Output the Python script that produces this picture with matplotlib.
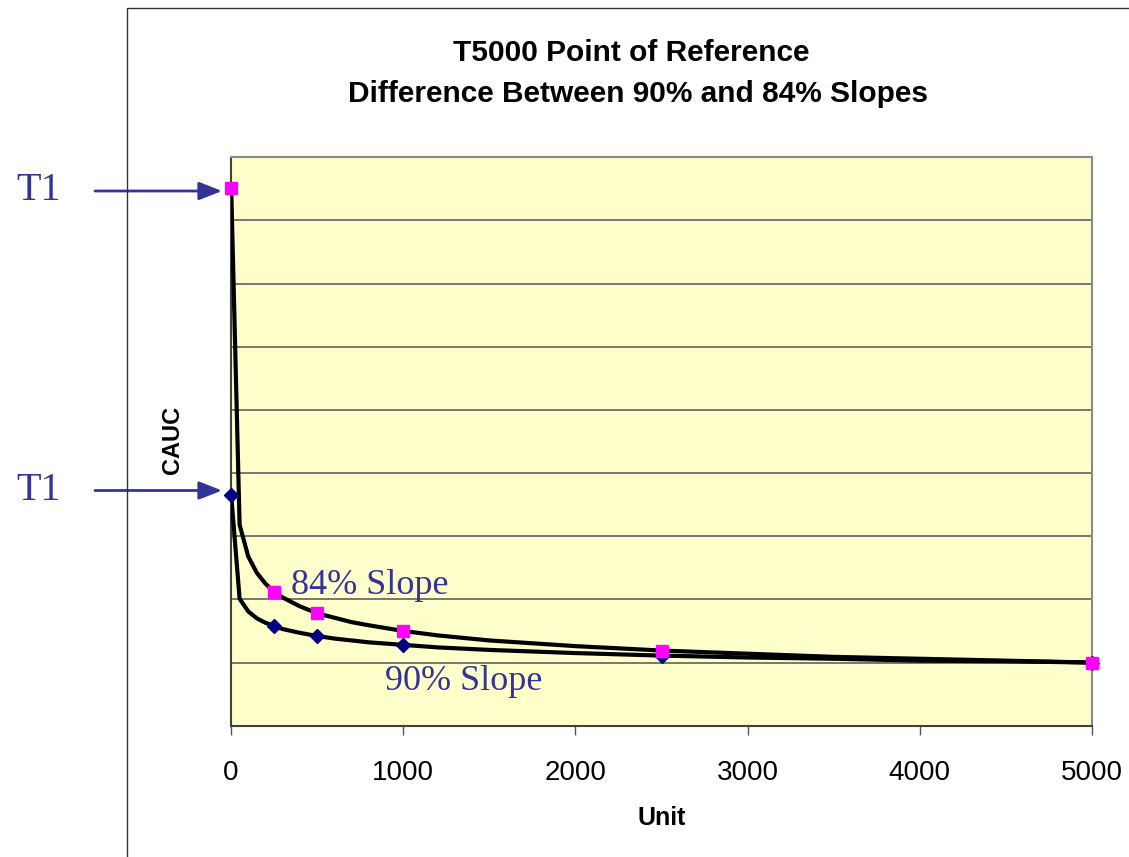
import matplotlib
matplotlib.use('Agg')
from matplotlib import pyplot as plt
from matplotlib.patches import Rectangle

plt.rcParams['font.family'] = ['Liberation Sans', 'DejaVu Sans']

# curve data, CAUC relative to T5000
units = [1, 50, 100, 150, 200, 250, 300, 400, 500, 600, 700, 800, 1000,
         1200, 1500, 2000, 2500, 3000, 3500, 4000, 4500, 5000]
cauc_84 = [8.52, 3.18, 2.68, 2.42, 2.25, 2.12, 2.03, 1.89, 1.78, 1.71, 1.64, 1.59, 1.50,
           1.43, 1.35, 1.26, 1.19, 1.14, 1.09, 1.06, 1.03, 1.00]
cauc_90 = [3.65, 2.01, 1.81, 1.70, 1.63, 1.58, 1.53, 1.47, 1.42, 1.38, 1.35, 1.32, 1.28,
           1.24, 1.20, 1.15, 1.11, 1.08, 1.06, 1.03, 1.02, 1.00]

# marked points
mark_units = [1, 250, 500, 1000, 2500, 5000]
mark_84 = [8.52, 2.12, 1.78, 1.50, 1.19, 1.00]
mark_90 = [3.65, 1.58, 1.42, 1.28, 1.11, 1.00]

xticks = [0, 1000, 2000, 3000, 4000, 5000]

W, H = 1129, 857
fig = plt.figure(figsize=(W / 100, H / 100), dpi=100, facecolor='white')

# outer chart border (runs off the right and bottom edge)
fig.patches.append(Rectangle((127 / W, -0.1), 1.2, 1 - 7.5 / H + 0.1,
                             transform=fig.transFigure, fill=False,
                             edgecolor='#333333', linewidth=1.0, clip_on=False))

ax = fig.add_axes([231 / W, 1 - 725.7 / H, (1092 - 231) / W, (725.7 - 157.3) / H])
ax.set_facecolor('#FFFFCC')

ax.plot(units, cauc_90, color='black', linewidth=3.0, zorder=3)
ax.plot(units, cauc_84, color='black', linewidth=3.0, zorder=3)
ax.plot(mark_units, mark_90, linestyle='none', marker='D', markersize=7.5,
        color='#000080', zorder=4, clip_on=False)
ax.plot(mark_units, mark_84, linestyle='none', marker='s', markersize=8.5,
        color='#FF00FF', zorder=5, clip_on=False)

ax.set_xlim(0, 5000)
ax.set_ylim(0, 9)
ax.set_yticks(range(1, 9))
ax.yaxis.grid(True, color='#606060', linewidth=1.2)
ax.tick_params(axis='y', left=False, labelleft=False)
ax.set_xticks(xticks)
ax.set_xticklabels([str(t) for t in xticks])
ax.tick_params(axis='x', direction='out', length=6.5, width=1.0, color='#555555',
               labelsize=20, pad=18)
for side in ['top', 'right']:
    ax.spines[side].set_color('#8a8a8a')
    ax.spines[side].set_linewidth(1.5)
for side in ['left', 'bottom']:
    ax.spines[side].set_color('#404040')
    ax.spines[side].set_linewidth(1.5)

# titles
fig.text(631 / W, 1 - 53 / H, 'T5000 Point of Reference', ha='center', va='center',
         fontsize=21.5, fontweight='bold')
fig.text(638 / W, 1 - 94 / H, 'Difference Between 90% and 84% Slopes', ha='center',
         va='center', fontsize=21.5, fontweight='bold')
fig.text(662 / W, 1 - 818 / H, 'Unit', ha='center', va='center',
         fontsize=18, fontweight='bold')
fig.text(172 / W, 1 - 440 / H, 'CAUC', ha='center', va='center', rotation=90,
         fontsize=17, fontweight='bold')

# slope labels
slope_font = dict(family=['Liberation Serif', 'DejaVu Serif'], fontsize=26, color='#333399')
ax.text(348, 2.08, '84% Slope', va='baseline', ha='left', **slope_font)
ax.text(894, 0.565, '90% Slope', va='baseline', ha='left', **slope_font)

# T1 labels with horizontal arrows
for y_pix in [191, 490.5]:
    fig.text(16 / W, 1 - y_pix / H, 'T1', ha='left', va='center',
             family=['Liberation Serif', 'DejaVu Serif'], fontsize=29, color='#333399')
    ax.annotate('', xy=(222, H - y_pix), xycoords='figure pixels',
                xytext=(95, H - y_pix), textcoords='figure pixels',
                arrowprops=dict(arrowstyle='-|>,head_length=1.4,head_width=0.55',
                                color='#333399', linewidth=2.0,
                                shrinkA=0, shrinkB=0),
                annotation_clip=False)

fig.savefig('out.png', dpi=100)
